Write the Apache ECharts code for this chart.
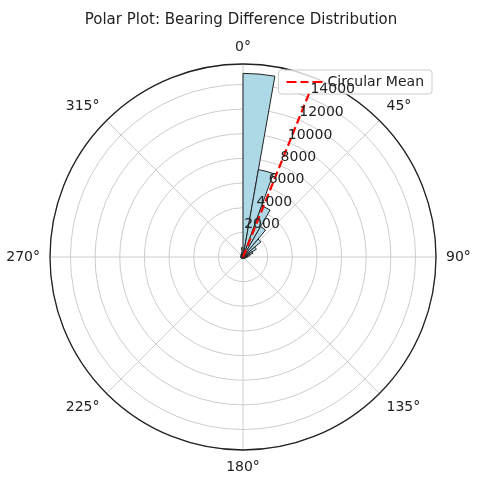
<!DOCTYPE html>
<html>
<head>
<meta charset="utf-8">
<script src="https://cdn.jsdelivr.net/npm/echarts@6/dist/echarts.min.js"></script>
<style>html,body{margin:0;padding:0;background:#fff}#c{width:482px;height:488px}</style>
</head>
<body>
<div id="c"></div>
<script>
// 10-degree bins, compass bearing, clockwise from north
var binLabels = [];
for (var i = 0; i < 36; i++) binLabels.push(i * 10);
var counts = [14900, 7200, 4400, 2850, 1900, 1250, 850, 570, 400, 290, 230, 190,
  160, 145, 135, 125, 115, 115, 115, 115, 125, 135, 145, 150,
  160, 170, 180, 190, 190, 200, 210, 230, 250, 290, 380, 760];
var meanAngle = 22;
var meanLength = 14500;
var rTicks = [2000, 4000, 6000, 8000, 10000, 12000, 14000];
var rMax = 15660;

var center = [243, 257], rad = 193;
var font = 'DejaVu Sans';

// radial tick labels sit along a ray at ~29 degrees, offset outward from each ring
var rLabels = rTicks.map(function (v, k) {
  var d = 38 + k * 25.3, a = (30 - k * 0.3) * Math.PI / 180;
  return { type: 'text', z: 20, x: center[0] + d * Math.sin(a), y: center[1] - d * Math.cos(a),
    style: { text: String(v), font: '14px "DejaVu Sans"', fill: '#222', align: 'center', verticalAlign: 'middle' } };
});

var chart = echarts.init(document.getElementById('c'));
chart.setOption({
  animation: false,
  title: { text: 'Polar Plot: Bearing Difference Distribution', left: 'center', top: 8,
    textStyle: { fontFamily: font, fontSize: 15, fontWeight: 'normal', color: '#222' } },
  legend: { right: 50, top: 70, itemWidth: 36, itemHeight: 14, itemGap: 6,
    backgroundColor: 'rgba(255,255,255,0.8)', borderColor: '#ccc', borderWidth: 1, borderRadius: 3,
    padding: [5, 8], textStyle: { fontFamily: font, fontSize: 14, color: '#222' },
    data: [{ name: 'Circular Mean', icon: 'path://M0,6 L10,6 L10,8 L0,8 Z M14,6 L22,6 L22,8 L14,8 Z M26,6 L36,6 L36,8 L26,8 Z',
      itemStyle: { color: 'red' } }] },
  graphic: rLabels,
  polar: [
    { center: center, radius: rad },
    { center: center, radius: rad }
  ],
  angleAxis: [
    { polarIndex: 0, type: 'category', data: binLabels, startAngle: 90, clockwise: true,
      axisLine: { show: false }, axisTick: { show: false }, axisLabel: { show: false }, splitLine: { show: false } },
    { polarIndex: 1, type: 'value', min: 0, max: 360, interval: 45, startAngle: 90, clockwise: true, z: 0,
      axisLine: { lineStyle: { color: '#222', width: 1.3 } }, axisTick: { show: false },
      axisLabel: { margin: 10, fontFamily: font, fontSize: 14, color: '#222',
        formatter: function (v) { return v === 360 ? '' : v + '°'; } },
      splitLine: { lineStyle: { color: '#ccc' } } }
  ],
  radiusAxis: [
    { polarIndex: 0, min: 0, max: rMax, axisLine: { show: false }, axisTick: { show: false },
      axisLabel: { show: false }, splitLine: { show: false } },
    { polarIndex: 1, min: 0, max: rMax, interval: 2000, axisLine: { show: false }, axisTick: { show: false },
      axisLabel: { show: false }, splitLine: { lineStyle: { color: '#ccc' } } }
  ],
  series: [
    { type: 'bar', coordinateSystem: 'polar', polarIndex: 0, data: counts, barCategoryGap: '0%', z: 2,
      itemStyle: { color: '#add8e6', borderColor: '#222', borderWidth: 1 } },
    { name: 'Circular Mean', type: 'line', coordinateSystem: 'polar', polarIndex: 1, symbol: 'none', z: 5,
      data: [[0, meanAngle], [meanLength, meanAngle]],
      lineStyle: { color: 'red', width: 2.2, type: [8, 4] } }
  ]
});
</script>
</body>
</html>
